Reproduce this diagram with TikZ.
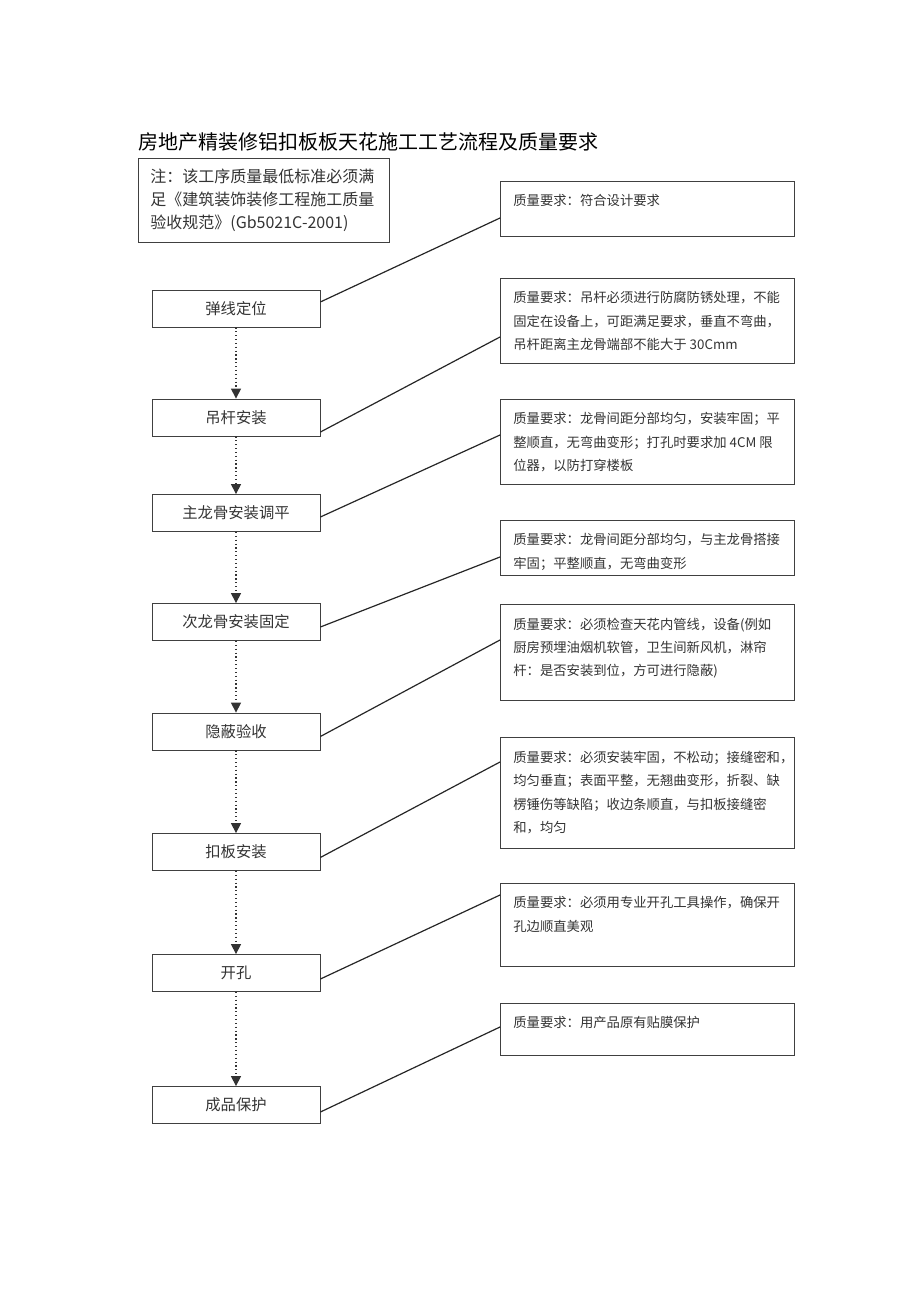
\documentclass[tikz,border=0pt]{standalone}
\usepackage{fontspec}
\newfontfamily\cjk{Noto Sans CJK SC}
\usetikzlibrary{arrows.meta}

\newcommand{\reqtext}[2]{\parbox[c][#1][t]{201pt}{\setlength{\baselineskip}{17.6pt}#2}}

\begin{document}
\begin{tikzpicture}[x=0.75pt,y=-0.75pt,
  stepbox/.style={draw=black!75,line width=0.6pt,rectangle,minimum width=126pt,minimum height=27.75pt,inner sep=0pt,text=black!80,font=\cjk\fontsize{11.5}{13}\selectfont},
  reqbox/.style={draw=black!75,line width=0.6pt,rectangle,anchor=north west,inner xsep=9.75pt,inner ysep=10pt,text=black!80,font=\cjk\fontsize{10}{17.6}\selectfont},
  notebox/.style={draw=black!75,line width=0.6pt,rectangle,anchor=north west,text width=170pt,align=left,inner xsep=9pt,minimum height=63pt,text=black!80,font=\cjk\fontsize{12}{17.5}\selectfont},
  flow/.style={dotted,line width=0.9pt,black!80,-{Triangle[length=7.5pt,width=7.5pt]}},
  link/.style={line width=0.9pt,black!85}]
\useasboundingbox (0,0) rectangle (920,1301);

\node[anchor=west,inner sep=0pt,font=\cjk\fontsize{15}{18}\selectfont] (title) at (138,142) {房地产精装修铝扣板板天花施工工艺流程及质量要求};
\node[notebox] (note) at (138,158) {注：该工序质量最低标准必须满\\足《建筑装饰装修工程施工质量\\验收规范》(Gb5021C-2001)};

% process steps
\node[stepbox] (s1) at (236,308.5) {弹线定位};
\node[stepbox] (s2) at (236,417.5) {吊杆安装};
\node[stepbox] (s3) at (236,513) {主龙骨安装调平};
\node[stepbox] (s4) at (236,622) {次龙骨安装固定};
\node[stepbox] (s5) at (236,731.5) {隐蔽验收};
\node[stepbox] (s6) at (236,852) {扣板安装};
\node[stepbox] (s7) at (236,973) {开孔};
\node[stepbox] (s8) at (236,1105) {成品保护};

% quality requirements
\node[reqbox] (q1) at (500,181) {\reqtext{21.25pt}{质量要求：符合设计要求}};
\node[reqbox] (q2) at (500,278) {\reqtext{43.75pt}{质量要求：吊杆必须进行防腐防锈处理，不能\\固定在设备上，可距满足要求，垂直不弯曲，\\吊杆距离主龙骨端部不能大于 30Cmm}};
\node[reqbox] (q3) at (500,399) {\reqtext{43.75pt}{质量要求：龙骨间距分部均匀，安装牢固；平\\整顺直，无弯曲变形；打孔时要求加 4CM 限\\位器，以防打穿楼板}};
\node[reqbox] (q4) at (500,520) {\reqtext{21.25pt}{质量要求：龙骨间距分部均匀，与主龙骨搭接\\牢固；平整顺直，无弯曲变形}};
\node[reqbox] (q5) at (500,604) {\reqtext{52pt}{质量要求：必须检查天花内管线，设备(例如\\厨房预埋油烟机软管，卫生间新风机，淋帘\\杆：是否安装到位，方可进行隐蔽)}};
\node[reqbox] (q6) at (500,737) {\reqtext{63.25pt}{质量要求：必须安装牢固，不松动；接缝密和，\\均匀垂直；表面平整，无翘曲变形，折裂、缺\\楞锤伤等缺陷；收边条顺直，与扣板接缝密\\和，均匀}};
\node[reqbox] (q7) at (500,883) {\reqtext{42.25pt}{质量要求：必须用专业开孔工具操作，确保开\\孔边顺直美观}};
\node[reqbox] (q8) at (500,1003) {\reqtext{19pt}{质量要求：用产品原有贴膜保护}};

\foreach \a/\b in {s1/s2,s2/s3,s3/s4,s4/s5,s5/s6,s6/s7,s7/s8}
  \draw[flow] (\a) -- (\b);

\draw[link] ([yshift=4.9pt]s1.east) -- ([yshift=-27.75pt]q1.north west);
\draw[link] ([yshift=-10.9pt]s2.east) -- ([yshift=-44.25pt]q2.north west);
\draw[link] ([yshift=-3pt]s3.east) -- ([yshift=-27pt]q3.north west);
\draw[link] ([yshift=-3.75pt]s4.east) -- ([yshift=-27.75pt]q4.north west);
\draw[link] ([yshift=-3.75pt]s5.east) -- ([yshift=-27pt]q5.north west);
\draw[link] ([yshift=-4.1pt]s6.east) -- ([yshift=-18.75pt]q6.north west);
\draw[link] ([yshift=-4.5pt]s7.east) -- ([yshift=-9pt]q7.north west);
\draw[link] ([yshift=-5.25pt]s8.east) -- ([yshift=-18pt]q8.north west);
\end{tikzpicture}
\end{document}
